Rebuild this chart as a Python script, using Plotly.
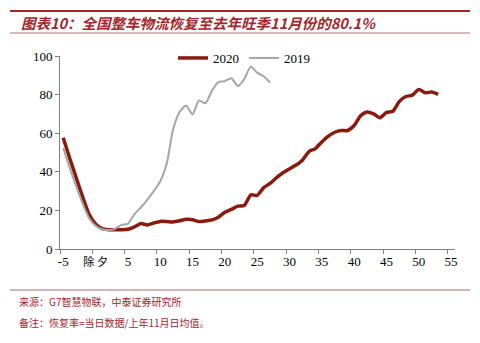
import plotly.graph_objects as go

days_2020 = list(range(-5, 54))
rate_2020 = [57.6, 47, 37, 27, 18, 13, 10.5, 10, 10, 10, 10.2, 11.5, 13.2, 12.5, 13.5, 14.3,
             14.2, 14, 14.6, 15.4, 15.2, 14.2, 14.5, 15.1, 16.5, 19, 20.5, 22.2, 22.5, 28, 27.8,
             31.8, 34, 37, 39.5, 41.5, 43.5, 46, 50.5, 52, 55.5, 58.5, 60.5, 61.4, 61.4, 64,
             69, 71, 70, 68, 70.8, 71.4, 76.5, 79, 79.7, 82.7, 81, 81.3, 80.1]
days_2019 = list(range(-5, 28))
rate_2019 = [52.4, 42, 32.5, 23.5, 16, 12, 10.2, 9.8, 10.5, 12.5, 13, 18, 21.5, 25.5, 30, 35,
             44, 62, 71, 74.4, 69.7, 77, 75.5, 82, 86.5, 87, 88.5, 84.4, 88, 94.5, 91.4, 89.5, 86.2]
tick_vals = [-5, 0, 5, 10, 15, 20, 25, 30, 35, 40, 45, 50, 55]
tick_text = ["-5", "<span style='font-size:11px'>除 夕</span>", "5", "10", "15", "20", "25",
             "30", "35", "40", "45", "50", "55"]

title = "图表10：全国整车物流恢复至去年旺季11月份的80.1%"
source = "来源：G7智慧物联，中泰证券研究所"
note = "备注：恢复率=当日数据/上年11月日均值。"

red = "#A3262A"
serif = "'Liberation Serif', 'Times New Roman', 'Noto Sans CJK SC', serif"

def py(px):
    return (343 - 94 - px) / 193

def pxx(px):
    return (px - 60) / 395

fig = go.Figure()
fig.add_trace(go.Scatter(x=days_2020, y=rate_2020, name="2020", mode="lines",
                         line=dict(color="#8B1A0E", width=3.5, shape="spline", smoothing=0.6)))
fig.add_trace(go.Scatter(x=days_2019, y=rate_2019, name="2019", mode="lines",
                         line=dict(color="#A6A6A6", width=2, shape="spline", smoothing=0.6)))

fig.update_layout(
    width=480, height=343,
    margin=dict(l=60, r=25, t=56, b=94),
    plot_bgcolor="white", paper_bgcolor="white",
    font=dict(family=serif, size=13, color="#000000"),
    showlegend=True,
    legend=dict(orientation="h", x=pxx(173), y=py(58), xanchor="left", yanchor="middle",
                font=dict(family=serif, size=13), bgcolor="rgba(0,0,0,0)",
                itemwidth=30, tracegroupgap=0),
    xaxis=dict(range=[-5.5, 55.6], tickmode="array", tickvals=tick_vals, ticktext=tick_text,
               showgrid=False, zeroline=False, showline=True, linecolor="#808080", linewidth=1,
               ticks="", tickfont=dict(family=serif, size=13),
               minor=dict(ticks="outside", tickmode="array",
                          tickvals=[v - 0.5 for v in tick_vals], ticklen=4, tickcolor="#808080")),
    yaxis=dict(range=[0, 100], tickvals=[0, 20, 40, 60, 80, 100], showgrid=False, zeroline=False,
               showline=True, linecolor="#808080", linewidth=1, ticks="outside", ticklen=4,
               tickcolor="#808080", tickfont=dict(family=serif, size=13)),
    shapes=[
        dict(type="line", xref="paper", yref="paper", x0=pxx(10), x1=pxx(470), y0=py(11),
             y1=py(11), line=dict(color=red, width=2)),
        dict(type="line", xref="paper", yref="paper", x0=pxx(10), x1=pxx(470), y0=py(33),
             y1=py(33), line=dict(color="#B07070", width=1)),
        dict(type="line", xref="paper", yref="paper", x0=pxx(10), x1=pxx(470), y0=py(290),
             y1=py(290), line=dict(color="#A07070", width=1)),
    ],
    annotations=[
        dict(text="<b><i>" + title + "</i></b>", xref="paper", yref="paper", x=pxx(19),
             y=py(22), xanchor="left", yanchor="middle", showarrow=False,
             font=dict(family="Noto Sans CJK SC", size=14.5, color=red)),
        dict(text=source, xref="paper", yref="paper", x=pxx(17), y=py(301),
             xanchor="left", yanchor="middle", showarrow=False,
             font=dict(family="Noto Sans CJK SC", size=10, color=red)),
        dict(text=note, xref="paper", yref="paper", x=pxx(17), y=py(322),
             xanchor="left", yanchor="middle", showarrow=False,
             font=dict(family="Noto Sans CJK SC", size=10, color=red)),
    ],
)

fig.write_html("out.html")
